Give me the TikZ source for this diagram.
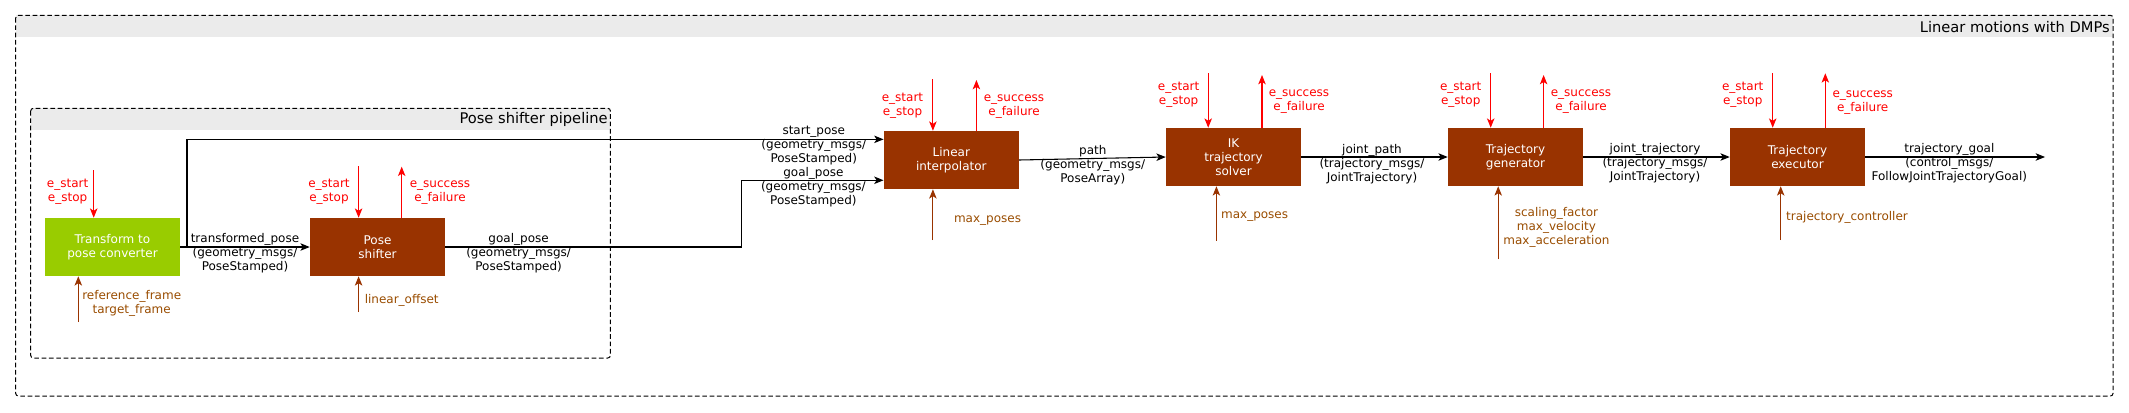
\documentclass[tikz,border=0pt]{standalone}
\usepackage{fontspec}
\setmainfont{DejaVu Sans}
\usetikzlibrary{arrows.meta}
\definecolor{brn}{HTML}{993300}
\definecolor{grn}{HTML}{99CC00}
\definecolor{ptxt}{HTML}{994C00}
\definecolor{tbar}{HTML}{EBEBEB}
\definecolor{evred}{HTML}{FF0000}
\tikzset{
  tip/.style={-{Stealth[length=7pt,width=5.6pt,inset=1.8pt]}},
  blk/.style={rectangle,draw=none,fill=brn,text=white,minimum width=101.25pt,minimum height=43.5pt,inner sep=0pt,align=center,font=\fontsize{9}{10.5}\selectfont},
  gblk/.style={blk,fill=grn},
  lbl/.style={inner sep=0pt,align=center,font=\fontsize{9}{10.5}\selectfont},
  evlbl/.style={lbl,text=evred},
  parlbl/.style={lbl,text=ptxt},
  ev/.style={tip,draw=evred,line width=0.8pt},
  par/.style={tip,draw=brn,line width=0.8pt},
  data/.style={tip,draw=black,line width=0.8pt},
  cont/.style={draw=black,line width=0.75pt,dash pattern=on 3.5pt off 2pt,rounded corners=2pt},
  ttl/.style={inner sep=0pt,font=\fontsize{11}{13}\selectfont,anchor=east}
}
\begin{document}
\begin{tikzpicture}[x=0.75pt,y=-0.75pt]
\useasboundingbox (0,0) rectangle (2129,412);
% containers
\fill[tbar] (15.7,15.3) rectangle (2113,36.7);
\draw[cont] (15.7,15.3) rectangle (2113,396);
\node[ttl] (outert) at (2110,27) {Linear motions with DMPs};
\fill[tbar] (30.7,108.3) rectangle (610.4,130);
\draw[cont] (30.7,108.3) rectangle (610.4,358);
\node[ttl] (innert) at (608,119.3) {Pose shifter pipeline};
% blocks
\node[gblk] (conv) at (112.5,247) {Transform to\\pose converter};
\node[blk] (shift) at (377.5,247) {Pose\\shifter};
\node[blk] (lin) at (951.3,160) {Linear\\interpolator};
\node[blk] (ik) at (1233.5,157) {IK\\trajectory\\solver};
\node[blk] (gen) at (1515.5,157) {Trajectory\\generator};
\node[blk] (exec) at (1797.5,157) {Trajectory\\executor};
% event arrows
\coordinate (cES) at (93.7,170);
\coordinate (sES) at (358.6,166);
\coordinate (sSU) at (401.7,166.7);
\coordinate (lES) at (932.9,79);
\coordinate (lSU) at (976.4,80);
\coordinate (iES) at (1208.2,73.3);
\coordinate (iSU) at (1262,75);
\coordinate (gES) at (1490.7,73.3);
\coordinate (gSU) at (1543.6,75);
\coordinate (eES) at (1772.7,73.3);
\coordinate (eSU) at (1825.3,73.3);
\draw[ev] (cES) -- (cES |- conv.north);
\draw[ev] (sES) -- (sES |- shift.north);
\draw[ev] (sSU |- shift.north) -- (sSU);
\draw[ev] (lES) -- (lES |- lin.north);
\draw[ev] (lSU |- lin.north) -- (lSU);
\draw[ev] (iES) -- (iES |- ik.north);
\draw[ev] (iSU |- ik.north) -- (iSU);
\draw[ev] (gES) -- (gES |- gen.north);
\draw[ev] (gSU |- gen.north) -- (gSU);
\draw[ev] (eES) -- (eES |- exec.north);
\draw[ev] (eSU |- exec.north) -- (eSU);
\node[evlbl] (cESl) at (67.6,192) {e\_start\\e\_stop};
\node[evlbl] (sESl) at (329,192) {e\_start\\e\_stop};
\node[evlbl] (sSUl) at (440,193) {e\_success\\e\_failure};
\node[evlbl] (lESl) at (902.5,106) {e\_start\\e\_stop};
\node[evlbl] (lSUl) at (1014,107) {e\_success\\e\_failure};
\node[evlbl] (iESl) at (1178.6,95) {e\_start\\e\_stop};
\node[evlbl] (iSUl) at (1299,102) {e\_success\\e\_failure};
\node[evlbl] (gESl) at (1460.7,95) {e\_start\\e\_stop};
\node[evlbl] (gSUl) at (1581,102) {e\_success\\e\_failure};
\node[evlbl] (eESl) at (1742.7,95) {e\_start\\e\_stop};
\node[evlbl] (eSUl) at (1862.7,102.5) {e\_success\\e\_failure};
% parameter arrows
\coordinate (cP) at (78.3,322);
\coordinate (sP) at (358.6,312);
\coordinate (lP) at (932.9,240);
\coordinate (iP) at (1216.4,240.7);
\coordinate (gP) at (1498.2,259.3);
\coordinate (eP) at (1780.7,240);
\draw[par] (cP) -- (cP |- conv.south);
\draw[par] (sP) -- (sP |- shift.south);
\draw[par] (lP) -- (lP |- lin.south);
\draw[par] (iP) -- (iP |- ik.south);
\draw[par] (gP) -- (gP |- gen.south);
\draw[par] (eP) -- (eP |- exec.south);
\node[parlbl] (cPl) at (131.7,303.7) {reference\_frame\\target\_frame};
\node[parlbl] (sPl) at (401.7,300) {linear\_offset};
\node[parlbl] (lPl) at (987.5,221) {max\_poses};
\node[parlbl] (iPl) at (1254.6,216.7) {max\_poses};
\node[parlbl] (gPl) at (1556.4,227) {scaling\_factor\\max\_velocity\\max\_acceleration};
\node[parlbl] (ePl) at (1847,217.7) {trajectory\_controller};
% data connectors
\coordinate (brx) at (187,0);
\coordinate (gkx) at (741.8,0);
\coordinate (outx) at (2045,0);
\draw[data] (conv.east) -- (shift.west);
\draw[data] (brx |- conv.east) |- ([yshift=15.5pt]lin.west);
\draw[data] (shift.east) -- (gkx |- shift.east) |- ([yshift=-15.2pt]lin.west);
\draw[data] (lin.east) -- (ik.west);
\draw[data] (ik.east) -- (gen.west);
\draw[data] (gen.east) -- (exec.west);
\draw[data] (exec.east) -- (outx |- exec.east);
\node[lbl] (tpl) at (245,253) {transformed\_pose\\(geometry\_msgs/\\PoseStamped)};
\node[lbl] (spl) at (813.8,146) {start\_pose\\(geometry\_msgs/\\PoseStamped)};
\node[lbl] (gpl1) at (518.6,253) {goal\_pose\\(geometry\_msgs/\\PoseStamped)};
\node[lbl] (gpl2) at (813.4,187.3) {goal\_pose\\(geometry\_msgs/\\PoseStamped)};
\node[lbl] (pal) at (1092.8,165.5) {path\\(geometry\_msgs/\\PoseArray)};
\node[lbl] (jpl) at (1372,164) {joint\_path\\(trajectory\_msgs/\\JointTrajectory)};
\node[lbl] (jtl) at (1655,163.4) {joint\_trajectory\\(trajectory\_msgs/\\JointTrajectory)};
\node[lbl] (tgl) at (1949.3,163.2) {trajectory\_goal\\(control\_msgs/\\FollowJointTrajectoryGoal)};
\end{tikzpicture}
\end{document}
